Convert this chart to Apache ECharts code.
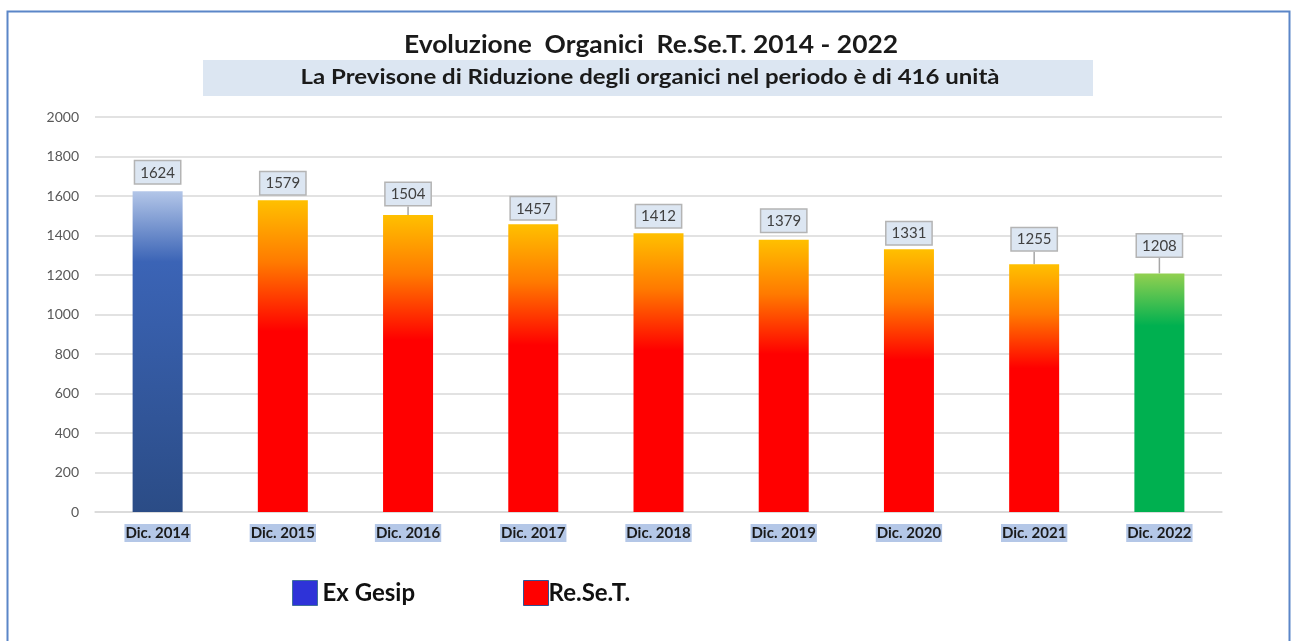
<!DOCTYPE html>
<html>
<head>
<meta charset="utf-8">
<title>Evoluzione Organici</title>
<script src="https://cdn.jsdelivr.net/npm/echarts@6/dist/echarts.min.js"></script>
<style>
  html, body { margin: 0; padding: 0; background: #fff; }
  #chart { width: 1295px; height: 641px; }
</style>
</head>
<body>
<div id="chart"></div>
<script>
var categories = ['Dic. 2014', 'Dic. 2015', 'Dic. 2016', 'Dic. 2017', 'Dic. 2018', 'Dic. 2019', 'Dic. 2020', 'Dic. 2021', 'Dic. 2022'];
var exGesip = [1624, '-', '-', '-', '-', '-', '-', '-', '-'];
var reset = ['-', 1579, 1504, 1457, 1412, 1379, 1331, 1255, 1208];
var yTicks = [0, 200, 400, 600, 800, 1000, 1200, 1400, 1600, 1800, 2000];
var titleText = 'Evoluzione  Organici  Re.Se.T. 2014 - 2022';
var subtitleText = 'La Previsone di Riduzione degli organici nel periodo è di 416 unità';

// label lift per bar (px) and which ones get a leader line
var labelLift = [-3, -1, -5, 0, -1, -3, 0, -9, -12];
var withLeader = [2, 7, 8];

var font = 'Lato, "Liberation Sans", Arial, sans-serif';

function grad(stops) {
    return new echarts.graphic.LinearGradient(0, 0, 0, 1, stops);
}
var blueGrad = grad([
    { offset: 0, color: '#b3c6e8' },
    { offset: 0.22, color: '#3b64b6' },
    { offset: 1, color: '#2b4c86' }
]);
var redGrad = grad([
    { offset: 0, color: '#ffc000' },
    { offset: 0.2, color: '#ff7a00' },
    { offset: 0.42, color: '#ff0000' },
    { offset: 1, color: '#ff0000' }
]);
var greenGrad = grad([
    { offset: 0, color: '#92d050' },
    { offset: 0.22, color: '#00b050' },
    { offset: 1, color: '#00b050' }
]);

function buildData(values) {
    return values.map(function (v, i) {
        var item = { value: v };
        if (withLeader.indexOf(i) >= 0) item.labelLine = { show: true };
        if (i === 8) item.itemStyle = { color: greenGrad };
        return item;
    });
}

var valueLabel = {
    show: true,
    position: 'top',
    distance: 5,
    fontFamily: font,
    fontSize: 15,
    color: '#404040',
    backgroundColor: '#dce6f2',
    borderColor: '#b4b4b4',
    borderWidth: 1.5,
    padding: [4, 5, 3, 5]
};

var chart = echarts.init(document.getElementById('chart'));
chart.setOption({
    animation: false,
    graphic: [{
        type: 'rect',
        z: -10,
        shape: { x: 7.5, y: 11.5, width: 1282, height: 640 },
        style: { fill: 'none', stroke: '#5b86c8', lineWidth: 2 }
    }, {
        type: 'rect',
        z: -5,
        shape: { x: 203, y: 60, width: 890, height: 36 },
        style: { fill: '#dce6f2' }
    }, {
        type: 'text',
        x: 651, y: 45,
        scaleX: 1.1,
        style: {
            text: titleText, fill: '#1a1a1a',
            font: 'bold 24px ' + font,
            textAlign: 'center', textVerticalAlign: 'middle'
        }
    }, {
        type: 'text',
        x: 650, y: 78,
        scaleX: 1.2,
        style: {
            text: subtitleText, fill: '#1a1a1a',
            font: 'bold 20px ' + font,
            textAlign: 'center', textVerticalAlign: 'middle'
        }
    }],
    legend: [{
        left: 287,
        top: 575,
        icon: 'rect',
        itemWidth: 25,
        itemHeight: 25,
        itemGap: 10,
        data: [{ name: 'Ex Gesip', itemStyle: { color: '#2e33d8', borderColor: '#41719c', borderWidth: 1 } }],
        textStyle: { fontFamily: font, fontSize: 24, fontWeight: 'bold', color: '#111' }
    }, {
        left: 518,
        top: 575,
        icon: 'rect',
        itemWidth: 25,
        itemHeight: 25,
        itemGap: 2,
        data: [{ name: 'Re.Se.T.', itemStyle: { color: '#ff0000', borderColor: '#2f5597', borderWidth: 1 } }],
        textStyle: { fontFamily: font, fontSize: 24, fontWeight: 'bold', color: '#111', padding: [0, 0, 0, -5] }
    }],
    grid: { left: 95, right: 73, top: 117, bottom: 129 },
    xAxis: {
        type: 'category',
        data: categories,
        axisLine: { lineStyle: { color: '#d9d9d9', width: 1.5 } },
        axisTick: { show: false },
        axisLabel: {
            margin: 12,
            fontFamily: font,
            fontSize: 15,
            fontWeight: 'bold',
            color: '#1a1a1a',
            backgroundColor: '#b4c7e7',
            padding: [2, 1, 1, 1]
        }
    },
    yAxis: {
        type: 'value',
        min: yTicks[0],
        max: yTicks[yTicks.length - 1],
        interval: yTicks[1] - yTicks[0],
        axisLine: { show: false },
        axisTick: { show: false },
        splitLine: { lineStyle: { color: '#d9d9d9', width: 1.5 } },
        axisLabel: {
            margin: 16, fontFamily: font, fontSize: 14, color: '#595959',
            formatter: function (v) { return String(v); }
        }
    },
    series: [{
        name: 'Ex Gesip',
        type: 'bar',
        stack: 'tot',
        barWidth: 50,
        data: buildData(exGesip),
        itemStyle: { color: blueGrad },
        label: valueLabel,
        labelLine: { show: false, lineStyle: { color: '#a6a6a6', width: 1.5 } },
        labelLayout: function (p) { return { dy: labelLift[p.dataIndex] }; }
    }, {
        name: 'Re.Se.T.',
        type: 'bar',
        stack: 'tot',
        barWidth: 50,
        data: buildData(reset),
        itemStyle: { color: redGrad },
        label: valueLabel,
        labelLine: { show: false, lineStyle: { color: '#a6a6a6', width: 1.5 } },
        labelLayout: function (p) { return { dy: labelLift[p.dataIndex] }; }
    }]
});
</script>
</body>
</html>
